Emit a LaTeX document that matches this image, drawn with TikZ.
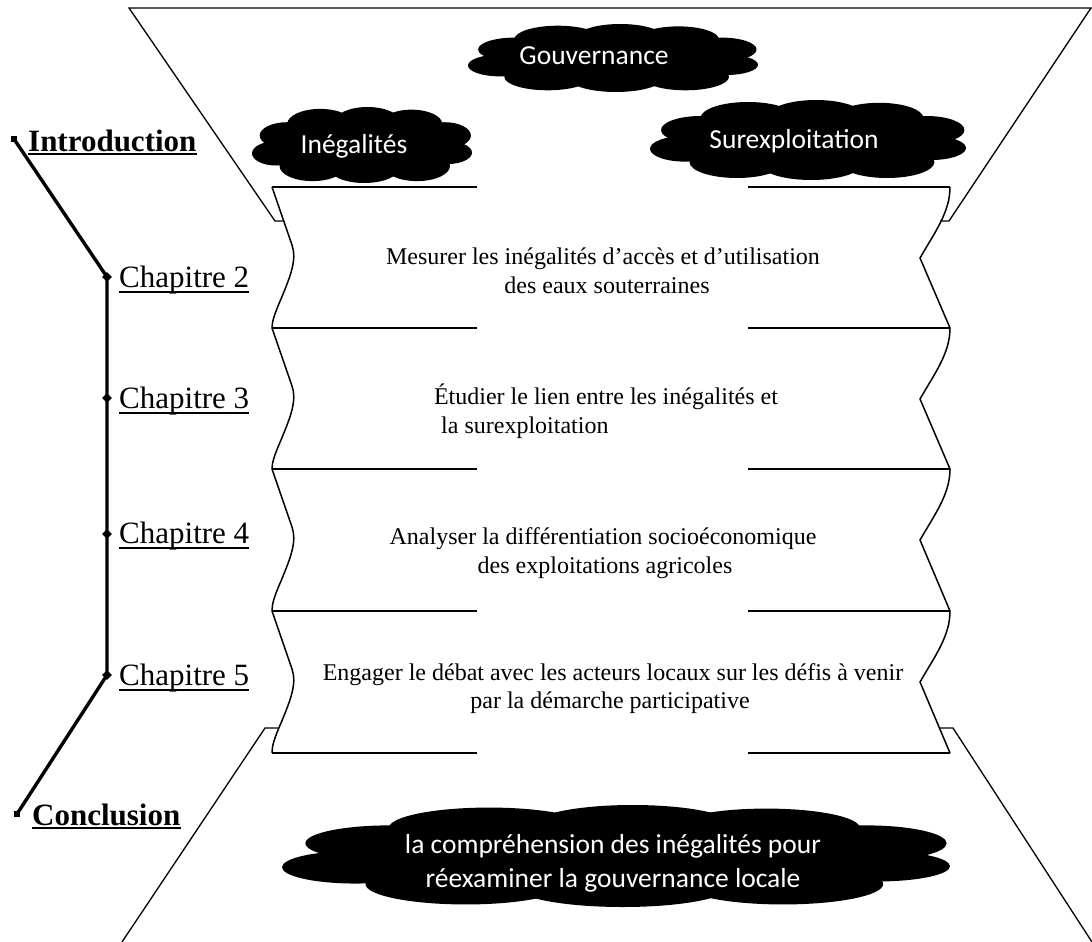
\documentclass[tikz,border=0pt]{standalone}
\usepackage{fontspec}
\setmainfont{Liberation Serif}
\newfontfamily\cloudfont{Carlito}
\usetikzlibrary{shapes.geometric}
\newcommand\wordcloud[4]{%
  \begin{scope}[shift={(#1,#2)}, x=#3pt, y=-#4pt]
    \fill[black] (0,0) ellipse [x radius=0.75, y radius=0.65];
    \foreach \a/\b/\c/\d in {-0.78/0.22/0.22/0.32, -0.68/-0.25/0.25/0.35, -0.38/-0.55/0.3/0.4,
      0.05/-0.6/0.3/0.4, 0.45/-0.55/0.28/0.38, 0.75/-0.25/0.24/0.35, 0.78/0.2/0.22/0.3,
      0.5/0.55/0.3/0.4, 0.02/0.6/0.32/0.4, -0.45/0.55/0.3/0.4}{
      \fill[black] (\a,\b) ellipse [x radius=\c, y radius=\d];
    }
  \end{scope}}
\begin{document}
\begin{tikzpicture}[x=1pt,y=-1pt,
  funnel/.style={line width=1.3pt},
  boxline/.style={line width=1.5pt},
  timeline/.style={line width=3.4pt},
  cloudtext/.style={font=\cloudfont\fontsize{27.5}{33}\selectfont, text=white, anchor=base, inner sep=0pt},
  boxtext/.style={font=\fontsize{24}{28}\selectfont, anchor=base, inner sep=0pt},
  chap/.style={font=\fontsize{31}{36}\selectfont, anchor=base west, inner sep=0pt},
  bigchap/.style={font=\bfseries\fontsize{31}{36}\selectfont, anchor=base west, inner sep=0pt},
  chapdot/.style={diamond, fill=black, inner sep=0pt, minimum size=10pt},
  enddot/.style={rectangle, fill=black, inner sep=0pt, minimum size=6pt},
  uline/.style={line width=1.4pt}
]
\useasboundingbox (0,0) rectangle (1092,942);

% funnel
\draw[funnel] (283,221) -- (275,221) -- (129,8) -- (1091,8) -- (949,221) -- (940,221);
\draw[funnel] (278,728) -- (265,728) -- (122,942);
\draw[funnel] (939,728) -- (953,728) -- (1092,942);

% boxes
\foreach \t/\b in {187/328, 328/469, 469/611, 611/753}{
  \draw[boxline] (272,\t) -- (292,\t+58) .. controls (297,\t+72) and (291,\t+88) .. (281,\t+112) .. controls (274,\t+128) and (272,\t+135) .. (272,\b);
  \draw[boxline] (950,\t) .. controls (950,\t+25) and (935,\t+45) .. (920,\t+71) -- (950,\b);
}
\foreach \y in {187,328,469,611,753}{
  \draw[boxline] (272,\y) -- (477,\y);
  \draw[boxline] (748,\y) -- (950,\y);
}

% box texts
\node[boxtext] (b1a) at (603,264) {Mesurer les inégalités d’accès et d’utilisation};
\node[boxtext] (b1b) at (607,293) {des eaux souterraines};
\node[boxtext] (b2a) at (606,404) {Étudier le lien entre les inégalités et};
\node[boxtext, anchor=base west] (b2b) at (441,433) {la surexploitation};
\node[boxtext] (b3a) at (603,544) {Analyser la différentiation socioéconomique};
\node[boxtext] (b3b) at (605,573) {des exploitations agricoles};
\node[boxtext] (b4a) at (613,680) {Engager le débat avec les acteurs locaux sur les défis à venir};
\node[boxtext] (b4b) at (610,708) {par la démarche participative};

% clouds
\wordcloud{613}{58}{145}{34}
\node[cloudtext] (tG) at (594,65) {Gouvernance};
\wordcloud{362}{145}{110}{38}
\node[cloudtext] (tI) at (354,153) {Inégalités};
\wordcloud{808}{140}{158}{40}
\node[cloudtext] (tS) at (794,148) {Surexploitation};
\wordcloud{616}{856}{334}{51}
\node[cloudtext] (tB1) at (613,853) {la compréhension des inégalités pour};
\node[cloudtext] (tB2) at (613,887) {réexaminer la gouvernance locale};

% timeline
\node[enddot] (dI) at (14,139) {};
\node[chapdot] (d2) at (107,277) {};
\node[chapdot] (d3) at (107,398) {};
\node[chapdot] (d4) at (107,534) {};
\node[chapdot] (d5) at (107,675) {};
\node[enddot] (dC) at (17,814) {};
\draw[timeline] (dI.center) -- (d2.center) -- (d3.center) -- (d4.center) -- (d5.center) -- (dC.center);

\node[bigchap] (lI) at (28,151) {Introduction};
\node[chap] (l2) at (119,287) {Chapitre 2};
\node[chap] (l3) at (119,408) {Chapitre 3};
\node[chap] (l4) at (119,543) {Chapitre 4};
\node[chap] (l5) at (119,685) {Chapitre 5};
\node[bigchap] (lC) at (32,825) {Conclusion};
\foreach \n/\s in {lI/3pt, l2/5pt, l3/5pt, l4/5pt, l5/5pt, lC/3pt}{
  \draw[uline] ([yshift=-\s]\n.base west) -- ([yshift=-\s]\n.base east);
}
\end{tikzpicture}
\end{document}
